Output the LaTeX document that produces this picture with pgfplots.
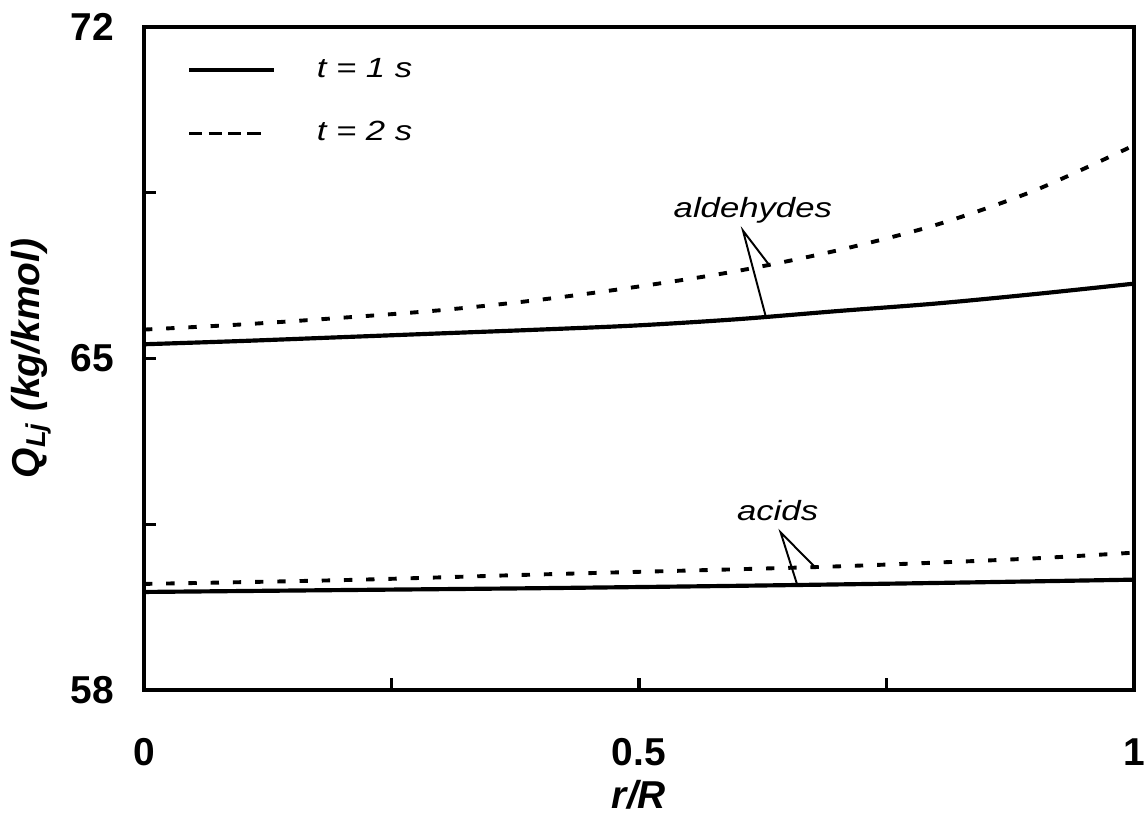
\documentclass[border=0pt]{standalone}
\usepackage{fontspec}
\setmainfont{Liberation Sans}
\newfontfamily\annfont[FakeStretch=1.25]{Liberation Sans}
\usepackage{pgfplots}
\pgfplotsset{compat=1.18}

\begin{document}
\begin{tikzpicture}
\begin{axis}[
  scale only axis, width=356.4pt, height=238.7pt,
  xmin=0, xmax=1, ymin=58, ymax=72,
  axis line style={line width=1.4pt},
  tick style={line width=1.2pt, black},
  major tick length=4.3pt,
  tick align=inside,
  xtick pos=bottom, ytick pos=left,
  xtick={0,0.25,0.5,0.75,1},
  xticklabels={0,,0.5,,1},
  ytick={58,61.5,65,68.5,72},
  yticklabels={58,,65,,72},
  /pgf/number format/assume math mode=true,
  ticklabel style={font=\fontsize{14}{16}\selectfont\bfseries},
  xticklabel style={anchor=center, yshift=-22.3pt},
  yticklabel style={anchor=center, xshift=-18.7pt},
  xlabel={\textbf{\textit{r/R}}},
  ylabel={\textbf{\textit{Q\textsubscript{Lj} (kg/kmol)}}},
  label style={font=\fontsize{14}{16}\selectfont},
  xlabel style={at={(axis description cs:0.5,-0.158)}, anchor=center},
  ylabel style={at={(axis description cs:-0.114,0.5)}, anchor=center},
  legend style={at={(axis description cs:0,1)}, anchor=north west,
    xshift=15.5pt, yshift=-11.1pt, draw=none, fill=none, inner sep=0pt,
    row sep=14.3pt, font=\annfont\fontsize{10}{12}\selectfont\itshape,
    nodes={inner sep=0pt},
    /tikz/every odd column/.append style={column sep=14.8pt}},
  legend cell align=left,
]
\addlegendimage{legend image code/.code={\draw[black, line width=1.1pt] (0pt,0pt) -- (30.6pt,0pt);}}
\addlegendentry{t = 1 s}
\addlegendimage{legend image code/.code={\draw[black, line width=1.1pt, dash pattern=on 4.7pt off 2.3pt] (0pt,0pt) -- (27pt,0pt);}}
\addlegendentry{t = 2 s}

% aldehydes, t = 1 s
\addplot[black, line width=1.5pt, smooth, forget plot] coordinates {
(0,65.30) (0.1,65.37) (0.2,65.45) (0.3,65.53) (0.4,65.61) (0.5,65.70)
(0.6,65.83) (0.7,66.00) (0.8,66.16) (0.9,66.36) (1.0,66.58)};
% aldehydes, t = 2 s
\addplot[black, line width=1.4pt, dash pattern=on 3pt off 5pt, smooth, forget plot] coordinates {
(0,65.61) (0.1,65.72) (0.2,65.86) (0.3,66.02) (0.4,66.24) (0.5,66.52)
(0.6,66.85) (0.7,67.28) (0.8,67.82) (0.9,68.55) (1.0,69.50)};
% acids, t = 1 s
\addplot[black, line width=1.5pt, smooth, forget plot] coordinates {
(0,60.07) (0.2,60.11) (0.4,60.15) (0.6,60.20) (0.8,60.26) (1.0,60.33)};
% acids, t = 2 s
\addplot[black, line width=1.4pt, dash pattern=on 3pt off 5pt, smooth, forget plot] coordinates {
(0,60.24) (0.2,60.32) (0.4,60.44) (0.6,60.55) (0.7,60.61) (0.8,60.69) (0.9,60.78) (1.0,60.90)};

\node[font=\annfont\fontsize{10}{12}\selectfont\itshape, anchor=base] at (axis cs:0.615,67.97) {aldehydes};
\draw[line width=0.7pt] (axis cs:0.632,66.96) -- (axis cs:0.605,67.70) -- (axis cs:0.628,65.89);
\node[font=\annfont\fontsize{10}{12}\selectfont\itshape, anchor=base] at (axis cs:0.640,61.58) {acids};
\draw[line width=0.7pt] (axis cs:0.678,60.59) -- (axis cs:0.643,61.33) -- (axis cs:0.660,60.21);
\end{axis}
\pgfresetboundingbox
\path (-51.84pt,-48.6pt) rectangle (360.36pt,248.4pt);
\end{tikzpicture}
\end{document}
